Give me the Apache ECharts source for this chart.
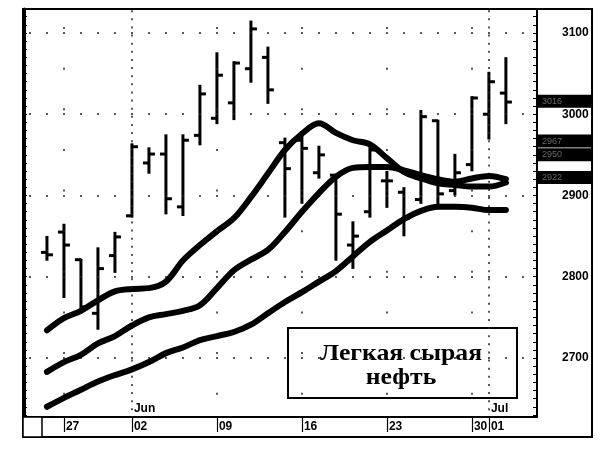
<!DOCTYPE html>
<html><head><meta charset="utf-8">
<script src="https://cdn.jsdelivr.net/npm/echarts@6/dist/echarts.min.js"></script>
<style>html,body{margin:0;padding:0;background:#fff}#c{width:613px;height:454px}</style>
</head><body><div id="c"></div>
<script>
// ---- data ----
const days = ['May 23','May 27','May 28','May 29','May 30','Jun 02','Jun 03','Jun 04','Jun 05','Jun 06',
  'Jun 09','Jun 10','Jun 11','Jun 12','Jun 13','Jun 16','Jun 17','Jun 18','Jun 19','Jun 20',
  'Jun 23','Jun 24','Jun 25','Jun 26','Jun 27','Jun 30','Jul 01','Jul 02'];
const opens  = [2830,2855,2821,2755,2826,2875,2940,2951,2886,2974,2995,3014,3056,3070,2965,2968,2928,2925,2839,2880,2918,2904,2895,2992,2906,2938,3000,3026];
const highs  = [2849,2864,2821,2835,2854,2963,2958,2974,2974,3035,3075,3064,3114,3082,2970,2978,2960,2925,2867,2965,2929,2909,3004,2992,2950,3021,3051,3069];
const lows   = [2821,2775,2759,2736,2806,2874,2928,2878,2876,2963,2989,2994,3040,3014,2874,2891,2922,2821,2811,2874,2886,2851,2891,2886,2901,2931,2970,2989];
const closes = [2827,2839,2763,2810,2849,2960,2951,2896,2968,3025,3048,3063,3105,3030,2933,2958,2950,2877,2850,2956,2918,2872,2997,2902,2928,3020,3040,3015];
const ma1 = [2734,2749,2758,2771,2782,2785,2786,2794,2820,2839,2856,2872,2898,2927,2956,2976,2989,2977,2968,2963,2946,2929,2921,2915,2913,2911,2911,2916];
const ma2 = [2683,2695,2704,2718,2727,2740,2750,2754,2758,2765,2786,2808,2821,2833,2855,2880,2903,2923,2934,2935,2935,2931,2925,2920,2917,2921,2924,2920];
const ma3 = [2640,2651,2661,2671,2679,2686,2695,2706,2713,2722,2727,2732,2741,2755,2769,2781,2794,2807,2825,2843,2857,2871,2881,2886,2886,2885,2882,2882];
const yTickLabels = [2700,2800,2900,3000,3100];
const dateTickIdx = [1,5,10,15,20,25,26];
const dateTickLabels = ['27','02','09','16','23','30','01'];
const monthTickIdx = [5,26];
const monthLabels = ['Jun','Jul'];
const sideMarks = [3016,2967,2950,2922];
const titleText = 'Легкая сырая\nнефть';

// ---- axes extents ----
const Y_MIN = 2627.4, Y_MAX = 3129.5;
const X_MIN = -1.35, X_MAX = 28.83;
const minorTicks = [];
for (let v = 2630; v <= 3120; v += 10) minorTicks.push(v);
const weekLines = dateTickIdx.filter(i => monthTickIdx.indexOf(i) < 0);

const ohlc = days.map((d, i) => [i, opens[i], highs[i], lows[i], closes[i]]);
const toXY = arr => arr.map((v, i) => [i, v]);

const chart = echarts.init(document.getElementById('c'), null, {renderer: 'canvas'});
const lbl = {fontFamily: 'Liberation Sans', fontWeight: 'bold', fontSize: 12, color: '#000'};

chart.setOption({
  animation: false,
  backgroundColor: '#fff',
  grid: {left: 24, right: 76, top: 9, bottom: 37, show: true, borderColor: '#000', borderWidth: 2, backgroundColor: '#fff'},
  xAxis: [
    {type: 'value', min: X_MIN, max: X_MAX, position: 'bottom',
     axisLine: {show: true, onZero: false, lineStyle: {color: '#000', width: 2}},
     axisTick: {show: true, customValues: dateTickIdx, length: 15, lineStyle: {color: '#000', width: 1.2}},
     axisLabel: Object.assign({customValues: dateTickIdx, margin: 4, align: 'left', padding: [0,0,0,2],
       formatter: v => dateTickLabels[dateTickIdx.indexOf(Math.round(v))] || ''}, lbl),
     splitLine: {show: false}},
    {type: 'value', min: X_MIN, max: X_MAX, position: 'bottom',
     axisLine: {show: false, onZero: false}, axisTick: {show: false},
     axisLabel: Object.assign({customValues: monthTickIdx, inside: true, margin: 2, align: 'left', padding: [0,0,0,2],
       formatter: v => monthLabels[monthTickIdx.indexOf(Math.round(v))] || ''}, lbl),
     splitLine: {show: false}}
  ],
  yAxis: [
    {type: 'value', position: 'right', min: Y_MIN, max: Y_MAX,
     axisLine: {show: true, onZero: false, lineStyle: {color: '#000', width: 2}},
     axisTick: {show: true, inside: true, length: 4, customValues: minorTicks, lineStyle: {color: '#000', width: 1}},
     axisLabel: Object.assign({customValues: yTickLabels, margin: 25, align: 'left', formatter: v => String(v)}, lbl),
     splitLine: {show: false}},
    {type: 'value', position: 'left', min: Y_MIN, max: Y_MAX,
     axisLine: {show: true, onZero: false, lineStyle: {color: '#000', width: 3}},
     axisTick: {show: true, inside: true, length: 3, customValues: minorTicks, lineStyle: {color: '#000', width: 1}},
     axisLabel: {show: false}, splitLine: {show: false}}
  ],
  graphic: [
    {type: 'rect', shape: {x: 23, y: 9, width: 569, height: 428}, style: {fill: 'none', stroke: '#000', lineWidth: 2}, z: 100},
    {type: 'rect', shape: {x: 23, y: 417, width: 19, height: 20}, style: {fill: '#fff', stroke: '#000', lineWidth: 1.5}, z: 100},
    {type: 'rect', shape: {x: 288, y: 328, width: 229, height: 70}, style: {fill: '#fff', stroke: '#000', lineWidth: 2}, z: 1},
    {type: 'text', x: 401, y: 366, z: 101, scaleX: 1.07,
     style: {text: titleText, fill: '#000', font: 'bold 24px "Liberation Serif"', textAlign: 'center', textVerticalAlign: 'middle', lineHeight: 24}}
  ],
  series: [
    // horizontal dotted grid at 100-levels
    {type: 'line', data: [], z: 1, silent: true,
     markLine: {symbol: ['none','none'], silent: true, label: {show: false},
       lineStyle: {color: '#222', width: 1.5, type: [2, 15], dashOffset: 12},
       data: yTickLabels.map(v => ({yAxis: v}))}},
    // month boundaries (dense dotted verticals)
    {type: 'line', data: [], z: 1, silent: true,
     markLine: {symbol: ['none','none'], silent: true, label: {show: false},
       lineStyle: {color: '#222', width: 1.5, type: [2, 6.125], dashOffset: 1.4},
       data: monthTickIdx.map(v => ({xAxis: v}))}},
    // week boundaries (sparse dotted verticals)
    {type: 'line', data: [], z: 1, silent: true,
     markLine: {symbol: ['none','none'], silent: true, label: {show: false},
       lineStyle: {color: '#222', width: 1.5, type: [2, 38.625], dashOffset: 18.25},
       data: weekLines.map(v => ({yAxis: undefined, xAxis: v}))}},
    // right-hand price boxes
    {type: 'line', data: [], z: 5, silent: true, clip: false,
     markLine: {symbol: ['none','none'], silent: true, lineStyle: {color: 'rgba(0,0,0,0)', width: 0},
       label: {show: true, position: 'end', distance: 1, formatter: p => String(p.value),
         backgroundColor: '#000', color: '#666', fontSize: 9, fontFamily: 'Liberation Sans',
         width: 46, height: 9, lineHeight: 9, padding: [2, 4]},
       data: sideMarks.map(v => ({yAxis: v}))}},
    // OHLC bars
    {type: 'custom', z: 3, encode: {x: 0, y: [1,2,3,4]}, data: ohlc,
     renderItem: (params, api) => {
       const x = api.value(0);
       const o = api.coord([x, api.value(1)]);
       const h = api.coord([x, api.value(2)]);
       const l = api.coord([x, api.value(3)]);
       const c = api.coord([x, api.value(4)]);
       const st = {stroke: '#000', lineWidth: 3};
       return {type: 'group', children: [
         {type: 'line', shape: {x1: h[0], y1: h[1] - 1, x2: l[0], y2: l[1] + 1}, style: st},
         {type: 'line', shape: {x1: o[0] - 6, y1: o[1], x2: o[0], y2: o[1]}, style: st},
         {type: 'line', shape: {x1: c[0], y1: c[1], x2: c[0] + 6, y2: c[1]}, style: st}
       ]};
     }},
    // moving averages
    ...[ma1, ma2, ma3].map((arr, k) => ({
      type: 'line', name: 'MA' + (k + 1), data: toXY(arr), z: 4 + k, smooth: 0.35,
      symbol: 'none', silent: true,
      lineStyle: {color: '#000', width: 6, cap: 'round', join: 'round'}
    }))
  ]
});
</script></body></html>
